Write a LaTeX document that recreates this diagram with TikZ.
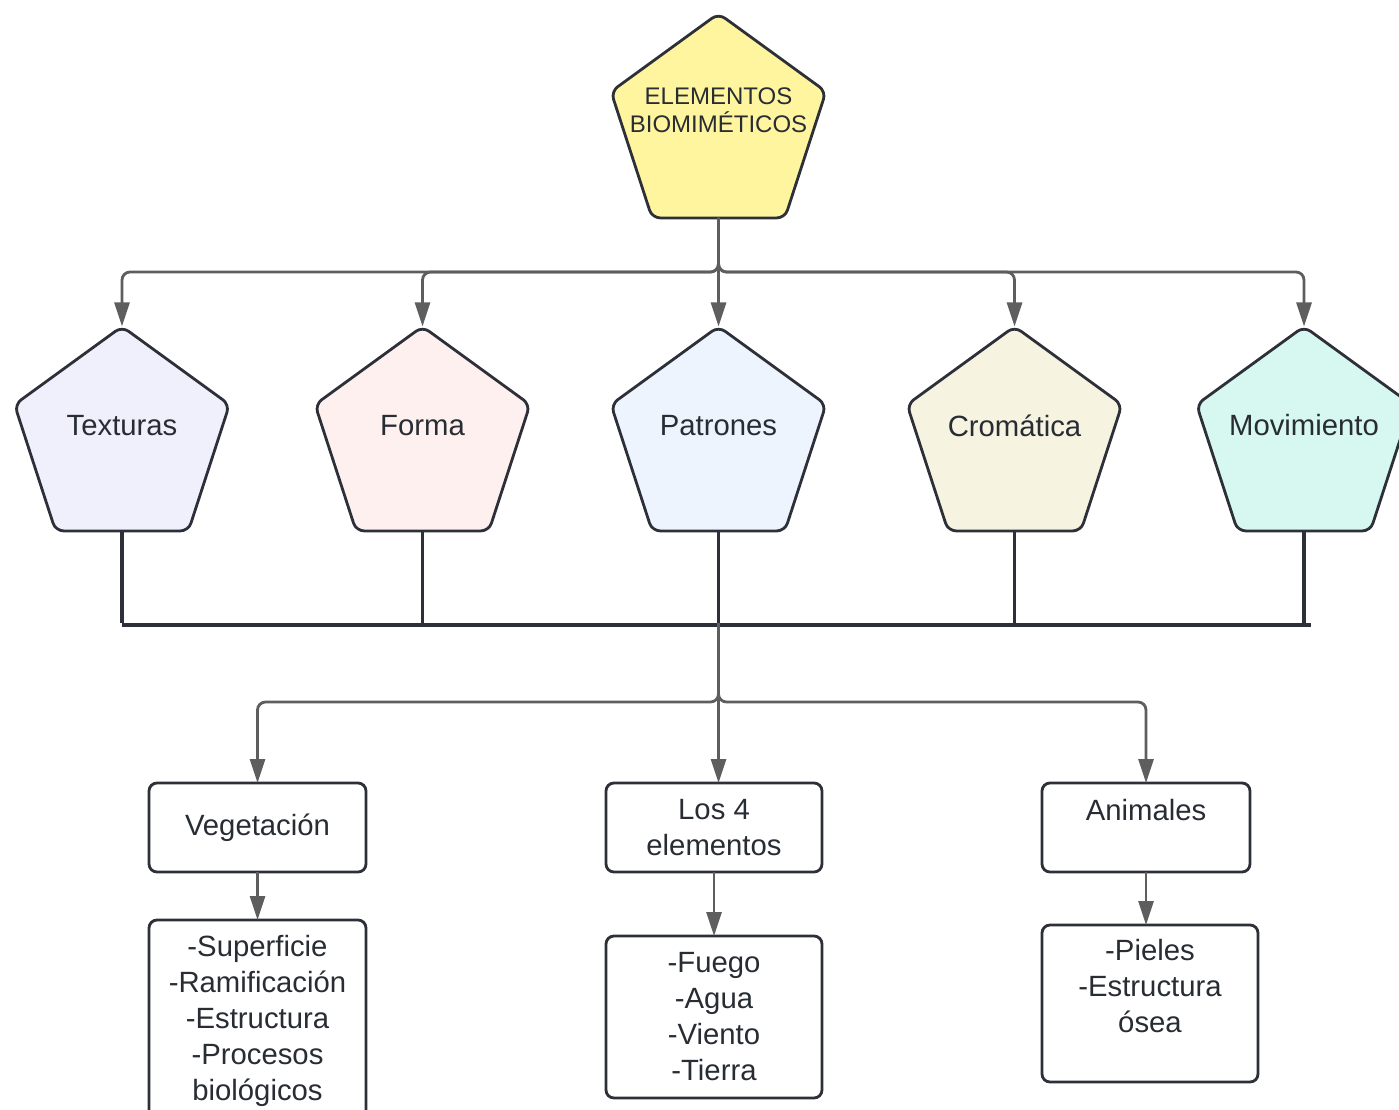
\documentclass[tikz,border=0pt]{standalone}
\usepackage{fontspec}
\setmainfont{Liberation Sans}
\usetikzlibrary{shapes.geometric,arrows.meta}

\definecolor{linec}{HTML}{2D3038}
\definecolor{connc}{HTML}{5E5E5E}
\definecolor{textc}{HTML}{282C33}
\definecolor{raizc}{HTML}{FFF59F}
\definecolor{texturasc}{HTML}{F0F0FD}
\definecolor{formac}{HTML}{FDF0EF}
\definecolor{patronesc}{HTML}{EDF4FE}
\definecolor{cromaticac}{HTML}{F6F3E1}
\definecolor{movimientoc}{HTML}{D6F8F1}

\tikzset{
  pent/.style={regular polygon, regular polygon sides=5, minimum size=226pt,
    draw=linec, line width=2.8pt, rounded corners=8pt},
  pentlab/.style={yshift=14pt, text=textc, align=center,
    font=\fontsize{29.3}{36}\selectfont},
  raizlab/.style={yshift=16.5pt, text=textc, align=center,
    font=\fontsize{24}{28.5}\selectfont},
  box/.style={rectangle, draw=linec, line width=2.8pt, rounded corners=8pt,
    fill=white, text=textc, align=center, font=\fontsize{29.3}{36}\selectfont},
  conn/.style={draw=connc, line width=2.8pt, rounded corners=8pt,
    -{Triangle[length=24pt,width=15pt]}},
  busline/.style={draw=linec, line width=3.2pt}
}

\begin{document}
\begin{tikzpicture}[x=1pt, y=-1pt, inner sep=0pt, outer sep=0pt]
\useasboundingbox (0,0) rectangle (1399,1109);
\clip (0,0) rectangle (1399,1109);

% pentagons
\node[pent, fill=raizc, label={[raizlab]center:ELEMENTOS\\BIOMIMÉTICOS}] (raiz) at (718.5,126.5) {};
\node[pent, fill=texturasc, label={[pentlab]center:Texturas}] (texturas) at (122,439.5) {};
\node[pent, fill=formac, label={[pentlab]center:Forma}] (forma) at (422.5,439.5) {};
\node[pent, fill=patronesc, label={[pentlab]center:Patrones}] (patrones) at (718.5,439.5) {};
\node[pent, fill=cromaticac, label={[pentlab]center:Cromática}] (cromatica) at (1014.5,439.5) {};
\node[pent, fill=movimientoc, label={[pentlab]center:Movimiento}] (movimiento) at (1304,439.5) {};

% boxes
\node[box, minimum width=217pt, minimum height=89pt] (vegetacion) at (257.5,827.5) {Vegetación};
\node[box, minimum width=216pt, minimum height=89pt] (cuatro) at (714,827.5) {Los 4\\elementos};
\node[box, minimum width=208pt, minimum height=89pt] (animales) at (1146,827.5) {Animales\\~};
\node[box, minimum width=217pt, minimum height=202pt] (veglista) at (257.5,1021)
  {-Superficie\\-Ramificación\\-Estructura\\-Procesos\\biológicos};
\node[box, minimum width=216pt, minimum height=162pt] (cuatrolista) at (714,1017)
  {-Fuego\\-Agua\\-Viento\\-Tierra};
\node[box, minimum width=216pt, minimum height=157pt] (anilista) at (1150,1003.5)
  {-Pieles\\-Estructura\\ósea\\~};

\coordinate (hubA) at (718.5,272);
\coordinate (busL) at (122,625);
\coordinate (busR) at (1311,625);
\coordinate (busC) at (718.5,623);
\coordinate (hubB) at (718.5,702);

% top connectors
\draw[conn] (raiz.south) -- (hubA) -| (texturas.north);
\draw[conn] (raiz.south) -- (hubA) -| (forma.north);
\draw[conn] (raiz.south) -- (patrones.north);
\draw[conn] (raiz.south) -- (hubA) -| (cromatica.north);
\draw[conn] (raiz.south) -- (hubA) -| (movimiento.north);

% bus
\foreach \p in {texturas,forma,patrones,cromatica,movimiento}
  \draw[busline] (\p.south) -- (\p.south |- busC);
\draw[busline] (busL) -- (busR);

% lower connectors
\draw[conn] (busC) -- (busC |- cuatro.north);
\draw[conn] (busC) -- (hubB) -| (vegetacion.north);
\draw[conn] (busC) -- (hubB) -| (animales.north);
\draw[conn] (vegetacion.south) -- (veglista.north);
\draw[conn] (cuatro.south) -- (cuatrolista.north);
\draw[conn] (animales.south) -- (animales.south |- anilista.north);
\end{tikzpicture}
\end{document}
